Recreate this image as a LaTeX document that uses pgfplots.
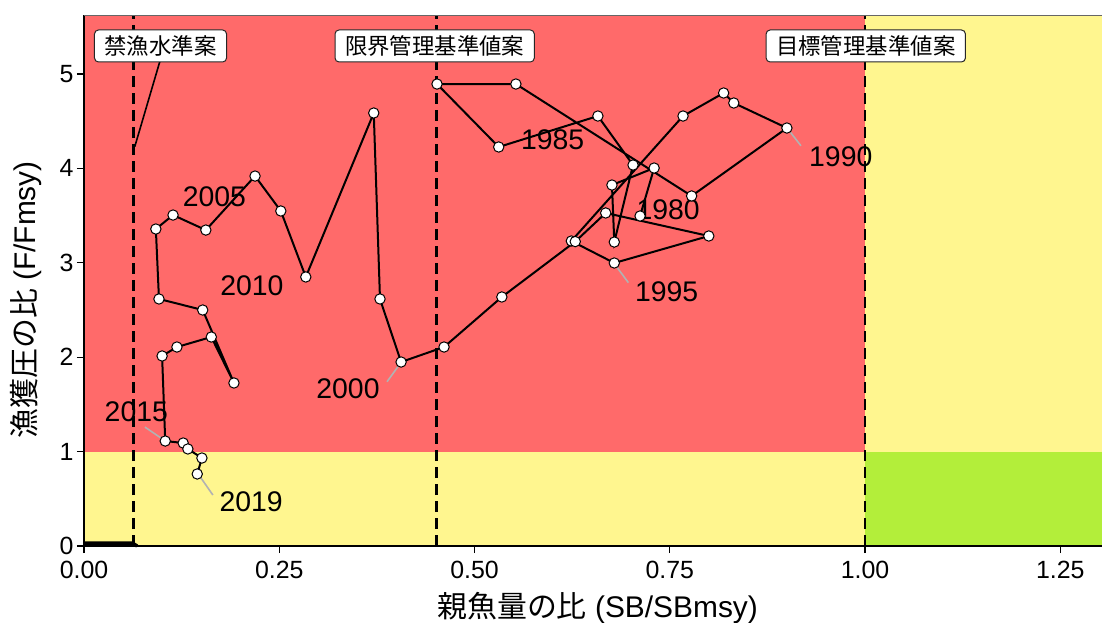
\documentclass[border=0pt]{standalone}
\usepackage{fontspec}
\setmainfont{Liberation Sans}
\newfontfamily\jp{Noto Sans CJK JP}
\usepackage{pgfplots}
\pgfplotsset{compat=1.18}
\definecolor{kred}{RGB}{255,106,106}
\definecolor{kyellow}{RGB}{255,246,143}
\definecolor{kgreen}{RGB}{179,238,58}
\begin{document}
\begin{tikzpicture}
\begin{axis}[
  name=ax,
  at={(0,0)}, anchor=south west,
  scale only axis, width=1023.1bp, height=530.5bp,
  xmin=0, xmax=1.31, ymin=0, ymax=5.62,
  axis lines*=left,
  axis line style={black, line width=1.2bp},
  axis on top,
  tick align=outside,
  major tick length=7bp,
  tick style={black, line width=1.2bp},
  xtick={0,0.25,0.5,0.75,1,1.25},
  xticklabels={0.00,0.25,0.50,0.75,1.00,1.25},
  ytick={0,1,2,3,4,5},
  yticklabels={0,1,2,3,4,5},
  ticklabel style={font=\fontsize{25}{25}\selectfont, text=black},
  xticklabel style={yshift=-5bp},
  xlabel={{\jp 親魚量の比} (SB/SBmsy)},
  ylabel={{\jp 漁獲圧の比} (F/Fmsy)},
  label style={font=\fontsize{30}{30}\selectfont},
  xlabel style={at={(axis description cs:0.502,-0.117)}, anchor=center},
  ylabel style={at={(axis description cs:-0.0567,0.464)}, anchor=center},
  clip=false,
]
\fill[kred] (axis cs:0,1) rectangle (axis cs:1,5.62);
\fill[kyellow] (axis cs:0,0) rectangle (axis cs:1,1);
\fill[kyellow] (axis cs:1,1) rectangle (axis cs:1.31,5.62);
\fill[kgreen] (axis cs:1,0) rectangle (axis cs:1.31,1);

\addplot[black, line width=3.5bp, no markers] coordinates {(0,0.03) (0.062,0.03) (0.068,0)};

\draw[black, line width=2.7bp, dash pattern=on 11bp off 6bp] (axis cs:0.063,0) -- (axis cs:0.063,5.62);
\draw[black, line width=2.7bp, dash pattern=on 11bp off 6bp] (axis cs:0.4516,0) -- (axis cs:0.4516,5.62);
\draw[black, line width=2.7bp, dash pattern=on 11bp off 6bp] (axis cs:1.0,0) -- (axis cs:1.0,5.62);

% leader segments
\draw[black, line width=1.6bp] (axis cs:0.097,5.13) -- (axis cs:0.065,4.23);
\draw[black!30, line width=1.6bp] (axis cs:0.900,4.43) -- (axis cs:0.918,4.24);
\draw[black!30, line width=1.6bp] (axis cs:0.680,2.98) -- (axis cs:0.697,2.79);
\draw[black!30, line width=1.6bp] (axis cs:0.402,1.90) -- (axis cs:0.388,1.74);
\draw[black!30, line width=1.6bp] (axis cs:0.078,1.26) -- (axis cs:0.101,1.13);
\draw[black!30, line width=1.6bp] (axis cs:0.149,0.73) -- (axis cs:0.165,0.54);

\addplot[black, line width=2bp, mark=*, mark size=5.2bp,
  mark options={fill=white, draw=black, line width=1bp}] coordinates {
(0.712,3.496) (0.730,4.004) (0.676,3.824) (0.679,3.220) (0.703,4.036)
(0.658,4.555) (0.531,4.227) (0.452,4.894) (0.553,4.894) (0.778,3.708)
(0.900,4.428) (0.832,4.693) (0.819,4.799) (0.767,4.555) (0.624,3.231)
(0.679,2.998) (0.800,3.284) (0.668,3.528) (0.629,3.225) (0.535,2.638)
(0.461,2.108)
(0.406,1.949) (0.379,2.617) (0.371,4.587) (0.284,2.850) (0.252,3.549)
(0.219,3.919) (0.156,3.347) (0.114,3.506) (0.092,3.358) (0.096,2.617)
(0.152,2.500) (0.192,1.727) (0.163,2.214) (0.119,2.108) (0.100,2.013)
(0.104,1.112) (0.127,1.091) (0.133,1.028) (0.151,0.932) (0.145,0.763)
};

\node[font=\fontsize{28.5}{28.5}\selectfont] at (axis cs:0.748,3.56) {1980};
\node[font=\fontsize{28.5}{28.5}\selectfont] at (axis cs:0.600,4.30) {1985};
\node[font=\fontsize{28.5}{28.5}\selectfont] at (axis cs:0.969,4.12) {1990};
\node[font=\fontsize{28.5}{28.5}\selectfont] at (axis cs:0.746,2.69) {1995};
\node[font=\fontsize{28.5}{28.5}\selectfont] at (axis cs:0.338,1.67) {2000};
\node[font=\fontsize{28.5}{28.5}\selectfont] at (axis cs:0.167,3.70) {2005};
\node[font=\fontsize{28.5}{28.5}\selectfont] at (axis cs:0.215,2.76) {2010};
\node[font=\fontsize{28.5}{28.5}\selectfont] at (axis cs:0.067,1.42) {2015};
\node[font=\fontsize{28.5}{28.5}\selectfont] at (axis cs:0.214,0.466) {2019};

\node[draw=black!85, fill=white, rounded corners=4bp, line width=1bp, inner xsep=10bp, inner ysep=0bp, minimum height=32bp, font=\jp\fontsize{22.5}{22.5}\selectfont] at (axis cs:0.098,5.297) {禁漁水準案};
\node[draw=black!85, fill=white, rounded corners=4bp, line width=1bp, inner xsep=10bp, inner ysep=0bp, minimum height=32bp, font=\jp\fontsize{22.5}{22.5}\selectfont] at (axis cs:0.449,5.297) {限界管理基準値案};
\node[draw=black!85, fill=white, rounded corners=4bp, line width=1bp, inner xsep=10bp, inner ysep=0bp, minimum height=32bp, font=\jp\fontsize{22.5}{22.5}\selectfont] at (axis cs:1.001,5.297) {目標管理基準値案};
\end{axis}
\draw[black!60, line width=1.2bp] (ax.north west) -- (ax.north east);
\pgfresetboundingbox
\path (-84bp,-77bp) rectangle (1018bp,546bp);
\end{tikzpicture}
\end{document}
